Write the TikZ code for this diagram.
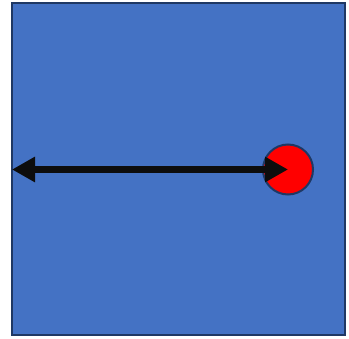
\documentclass[tikz,border=0pt]{standalone}
\usetikzlibrary{arrows.meta}
\definecolor{fillblue}{HTML}{4472C4}
\definecolor{navy}{HTML}{1F3864}
\definecolor{arrowblack}{HTML}{0D0D0D}
\tikzset{
  panel/.style={draw=navy, line width=2pt, fill=fillblue},
  dot/.style={circle, draw=navy, line width=2pt, fill=red, minimum size=50pt, inner sep=0pt},
  bigarrow/.style={arrowblack, line width=7pt, {Triangle[length=23pt,width=24pt]}-{Triangle[length=23pt,width=24pt]}}
}
\begin{document}
\begin{tikzpicture}[x=1pt,y=-1pt]
\useasboundingbox (0,0) rectangle (349,339);
\draw[panel] (11.5,3) rectangle (344.5,335.5);
\node[dot] (c) at (288,169.5) {};
\coordinate (l) at (12,169.5);
\draw[bigarrow] (c.center) -- (l);
\end{tikzpicture}
\end{document}
